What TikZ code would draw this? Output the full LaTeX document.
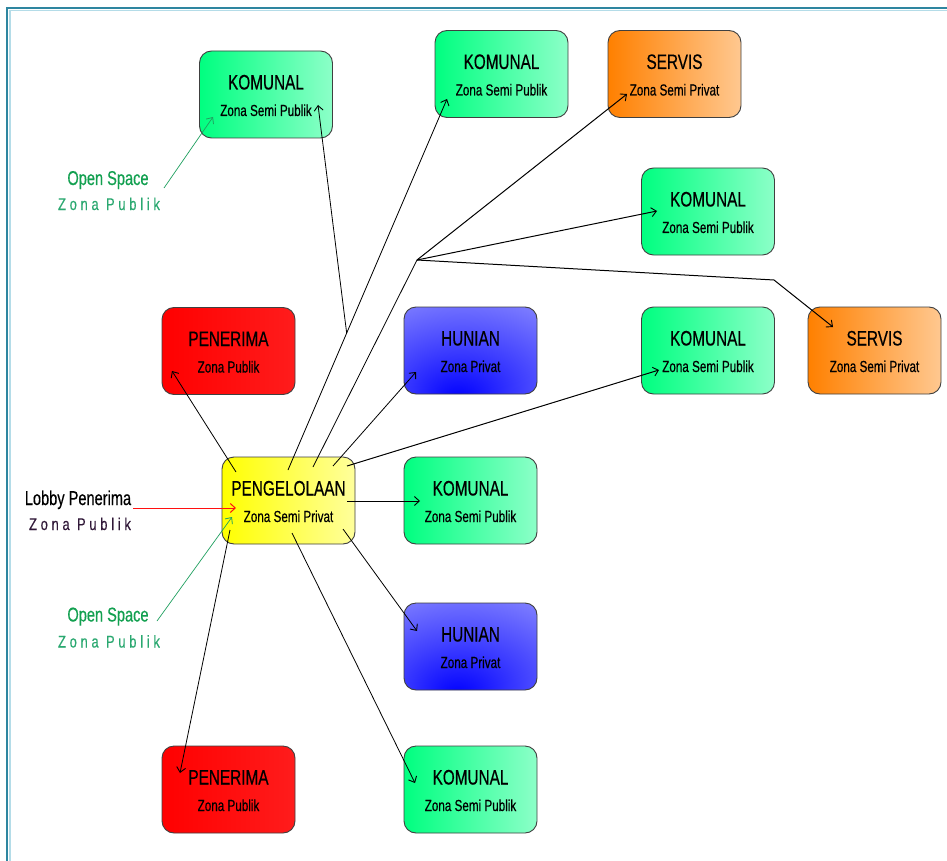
\documentclass[tikz,border=0pt]{standalone}
\usepackage{fontspec}
\setmainfont{Liberation Sans}
\newfontfamily\narrowf[FakeStretch=0.73,FakeBold=0.4]{Liberation Sans}
\newfontfamily\spacedf[FakeStretch=0.76,LetterSpace=22,FakeBold=0.3]{Liberation Sans}
\usetikzlibrary{arrows.meta,calc}
\definecolor{gL}{HTML}{00FF80}\definecolor{gR}{HTML}{8CFFC8}
\definecolor{oL}{HTML}{FF8000}\definecolor{oR}{HTML}{FFC890}
\definecolor{rL}{HTML}{FF0000}\definecolor{rR}{HTML}{FF1C1C}
\definecolor{yL}{HTML}{FFFF00}\definecolor{yR}{HTML}{FFFF9C}
\definecolor{b0}{HTML}{0000FF}\definecolor{b1}{HTML}{3C3CFF}\definecolor{b2}{HTML}{A4A4FF}
\definecolor{framec}{HTML}{2E86A0}\definecolor{framel}{HTML}{B4DCE8}
\definecolor{osgreen}{HTML}{12A050}\definecolor{zpgreen}{HTML}{2AA870}
\definecolor{zpdark}{HTML}{301838}\definecolor{redln}{HTML}{FF1010}
\definecolor{greenln}{HTML}{20A060}
\pgfdeclareradialshading{bluesh}{\pgfpoint{-5bp}{-28bp}}{color(0bp)=(b0); color(22bp)=(b1); color(62bp)=(b2); color(100bp)=(b2)}
\newcommand\zbox[6]{%
  \node[zb,#4] (#1) at (#2,#3) {};
  \node[ttl] (#1t) at ($(#1.center)+(0,-5)$) {#5};
  \node[subt] (#1s) at ($(#1.center)+(0,21.5)$) {#6};
}
\tikzset{
  zb/.style={draw=black!75, line width=0.9pt, rounded corners=12pt, minimum width=133pt, minimum height=87pt, inner sep=0pt},
  green/.style={left color=gL, right color=gR},
  orange/.style={left color=oL, right color=oR},
  redb/.style={left color=rL, right color=rR},
  yellowb/.style={left color=yL, right color=yR},
  blueb/.style={shade, shading=bluesh},
  ttl/.style={anchor=base, inner sep=0pt, font=\narrowf\fontsize{21}{21}\selectfont},
  subt/.style={anchor=base, inner sep=0pt, font=\narrowf\fontsize{16}{16}\selectfont},
  lbl/.style={anchor=base, inner sep=0pt, font=\narrowf\fontsize{20}{20}\selectfont},
  zp/.style={anchor=base, inner sep=0pt, font=\spacedf\fontsize{17}{17}\selectfont},
  ln/.style={draw=black, line width=0.8pt},
  con/.style={ln, -{Straight Barb[length=5pt,width=9pt,line width=0.9pt]}},
  gcon/.style={draw=greenln, line width=0.7pt, -{Straight Barb[length=5pt,width=9pt,line width=0.8pt]}},
  rcon/.style={draw=redln, line width=0.9pt, -{Straight Barb[length=5pt,width=9pt,line width=1pt]}},
}
\begin{document}
\begin{tikzpicture}[x=1pt,y=-1pt]
\useasboundingbox (0,0) rectangle (947,861);
\fill[white] (0,0) rectangle (947,861);
% frame
\draw[framel, line width=1.5pt] (10,861) -- (10,10.5) -- (947,10.5);
\draw[framec, line width=2.2pt] (7,861) -- (7,8) -- (947,8);
% boxes
\zbox{ktl}{266}{94.5}{green}{KOMUNAL}{Zona Semi Publik}
\zbox{ktm}{501.5}{74}{green}{KOMUNAL}{Zona Semi Publik}
\zbox{st}{674.5}{74}{orange}{SERVIS}{Zona Semi Privat}
\zbox{kr1}{708}{211.5}{green}{KOMUNAL}{Zona Semi Publik}
\zbox{sr}{874.5}{350.5}{orange}{SERVIS}{Zona Semi Privat}
\zbox{kr2}{708}{350.5}{green}{KOMUNAL}{Zona Semi Publik}
\zbox{pt}{228.5}{351}{redb}{PENERIMA}{Zona Publik}
\zbox{ht}{470.5}{350.5}{blueb}{HUNIAN}{Zona Privat}
\zbox{pg}{288.5}{500.5}{yellowb}{PENGELOLAAN}{Zona Semi Privat}
\zbox{km}{470.5}{500.5}{green}{KOMUNAL}{Zona Semi Publik}
\zbox{hb}{470.5}{646.5}{blueb}{HUNIAN}{Zona Privat}
\zbox{pb}{228.5}{789.5}{redb}{PENERIMA}{Zona Publik}
\zbox{kb}{470.5}{789.5}{green}{KOMUNAL}{Zona Semi Publik}
% outside labels
\node[lbl, text=osgreen] (os1) at (108,185) {Open Space};
\node[zp, text=zpgreen] (os1z) at (109,210) {Zona Publik};
\node[lbl, text=black] (lob) at (78,505) {Lobby Penerima};
\node[zp, text=zpdark] (lobz) at (80,530) {Zona Publik};
\node[lbl, text=osgreen] (os2) at (108,621.5) {Open Space};
\node[zp, text=zpgreen] (os2z) at (109,647.5) {Zona Publik};
% connector points
\coordinate (lobE) at (133,508);
\coordinate (pgL) at (236,508);
\coordinate (os2E) at (157,621);
\coordinate (pgG) at (232,517);
\coordinate (os1E) at (164,188);
\coordinate (ktlG) at (213,117);
\coordinate (pgA) at (236,472);
\coordinate (ptA) at (172,371);
\coordinate (pgB) at (288,470);
\coordinate (ktmA) at (447,99);
\coordinate (br) at ($(pgB)!0.369!(ktmA)$);
\coordinate (ktlA) at (318,105);
\coordinate (pgC) at (313,467);
\coordinate (hub) at (417,260);
\coordinate (stA) at (627,94);
\coordinate (kr1A) at (657,211);
\coordinate (bend) at (774,280);
\coordinate (srA) at (833,327);
\coordinate (pgD) at (333,466);
\coordinate (htA) at (416,372);
\coordinate (pgE) at (347,466);
\coordinate (kr2A) at (659,370);
\coordinate (pgF) at (347,501);
\coordinate (kmA) at (420,501);
\coordinate (pgH) at (343,529);
\coordinate (hbA) at (417,631);
\coordinate (pgI) at (292,533);
\coordinate (kbA) at (415,783);
\coordinate (pgJ) at (230,530);
\coordinate (pbA) at (180,773);
% connectors
\draw[rcon] (lobE) -- (pgL);
\draw[gcon] (os2E) -- (pgG);
\draw[gcon] (os1E) -- (ktlG);
\draw[con] (pgA) -- (ptA);
\draw[con] (pgB) -- (ktmA);
\draw[con] (br) -- (ktlA);
\draw[ln] (pgC) -- (hub);
\draw[con, line width=1pt] (hub) -- (stA);
\draw[con, line width=1pt] (hub) -- (kr1A);
\draw[con, line width=1pt] (hub) -- (bend) -- (srA);
\draw[con] (pgD) -- (htA);
\draw[con, line width=1pt] (pgE) -- (kr2A);
\draw[con, line width=1pt] (pgF) -- (kmA);
\draw[con] (pgH) -- (hbA);
\draw[con] (pgI) -- (kbA);
\draw[con] (pgJ) -- (pbA);
\end{tikzpicture}
\end{document}
